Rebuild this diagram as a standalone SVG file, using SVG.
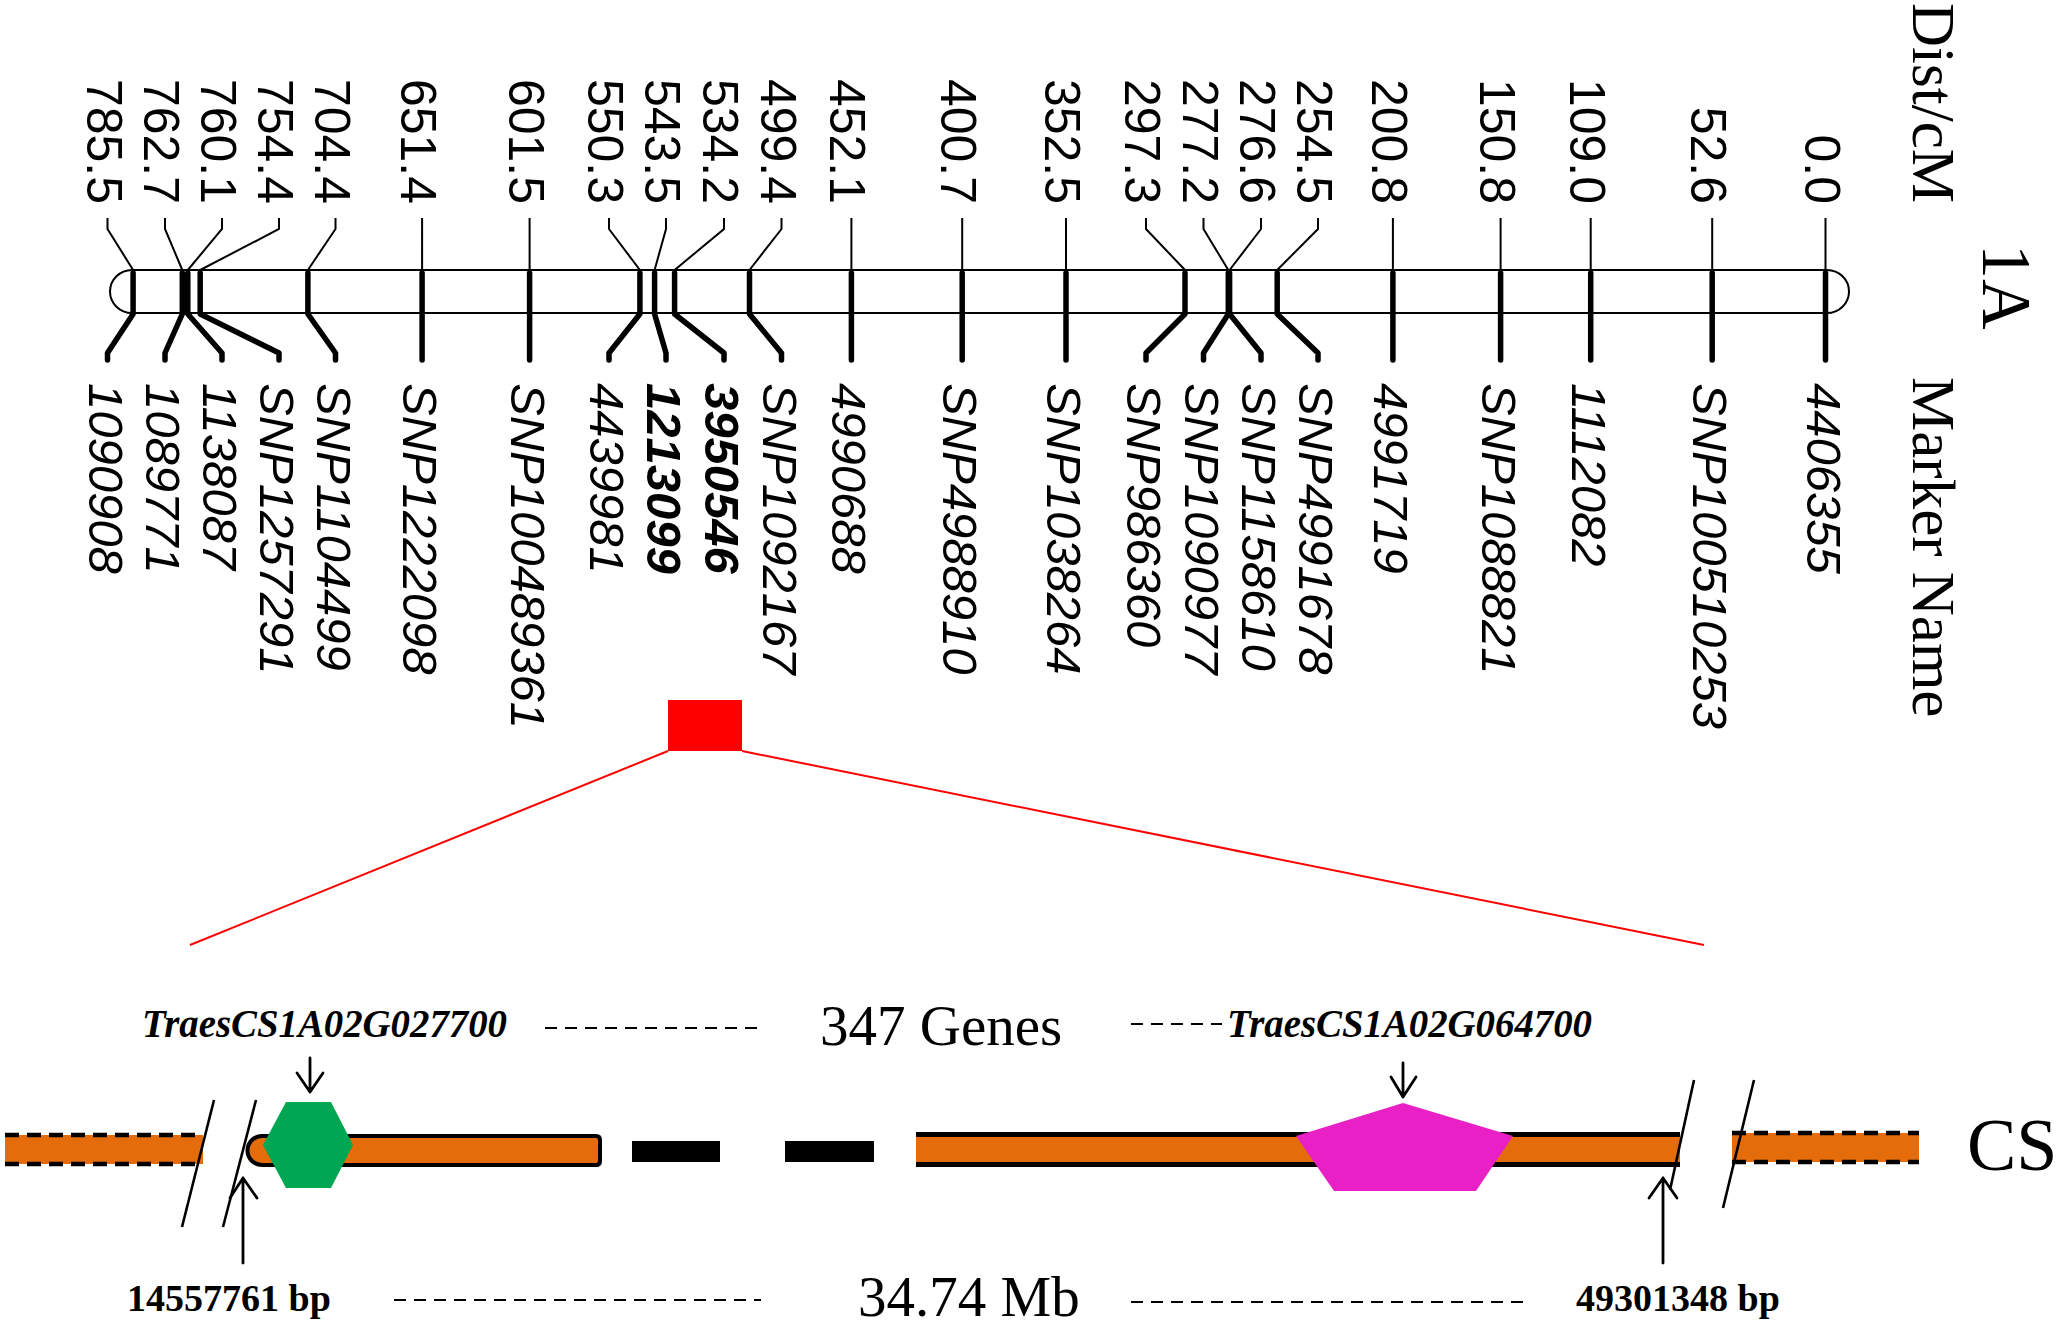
<svg xmlns="http://www.w3.org/2000/svg" width="2058" height="1325" viewBox="0 0 2058 1325">
<style>
.num{font-family:"Liberation Sans",Arial,sans-serif;font-size:50px;fill:#000;text-anchor:end}
.mk{font-family:"Liberation Sans",Arial,sans-serif;font-size:49px;font-style:italic;fill:#000}
.b{font-weight:bold}
.ser{font-family:"Liberation Serif","Times New Roman",serif;fill:#000}
.thin{stroke:#000;stroke-width:2;fill:none}
.thick{stroke:#000;stroke-width:5.5;fill:none;stroke-linecap:round;stroke-linejoin:round}
.dash{stroke:#000;stroke-width:2.2;stroke-dasharray:12 8;fill:none}
.bdash{stroke:#000;stroke-width:4.5;stroke-dasharray:14 8;fill:none}
.arr{stroke:#000;stroke-width:2.8;fill:none;stroke-linecap:round;stroke-linejoin:round}
.slash{stroke:#000;stroke-width:2.6;fill:none}
.red{stroke:#FF0000;stroke-width:2;fill:none}
.orange{fill:#E46C0A}
.gtxt{font-family:"Liberation Serif","Times New Roman",serif;font-size:39px;font-weight:bold;font-style:italic;fill:#000}
.bp{font-family:"Liberation Serif","Times New Roman",serif;font-size:38px;font-weight:bold;fill:#000}
</style>
<rect width="2058" height="1325" fill="#fff"/>

<g id="axis-titles">
<text class="ser" font-size="61" transform="translate(1913,3) rotate(90)">Dist/cM</text>
<text class="ser" font-size="70" transform="translate(1983,244) rotate(90)">1A</text>
<text class="ser" font-size="61" transform="translate(1913,377) rotate(90)">Marker Name</text>
</g>

<g id="chromosome">
<rect x="110" y="270" width="1739" height="43" rx="22" ry="21.5" fill="#fff" stroke="#000" stroke-width="2"/>
</g>

<g id="markers">
<g id="m785_5"><text class="num" transform="translate(86.5,204) rotate(90)">785.5</text><text class="mk" transform="translate(88.5,383) rotate(90)">1090908</text></g>
<g id="m762_7"><text class="num" transform="translate(144,204) rotate(90)">762.7</text><text class="mk" transform="translate(146,383) rotate(90)">1089771</text></g>
<g id="m760_1"><text class="num" transform="translate(201,204) rotate(90)">760.1</text><text class="mk" transform="translate(203,383) rotate(90)">1138087</text></g>
<g id="m754_4"><text class="num" transform="translate(258,204) rotate(90)">754.4</text><text class="mk" transform="translate(260,383) rotate(90)">SNP1257291</text></g>
<g id="m704_4"><text class="num" transform="translate(314.5,204) rotate(90)">704.4</text><text class="mk" transform="translate(316.5,383) rotate(90)">SNP1104499</text></g>
<g id="m651_4"><text class="num" transform="translate(401.1,204) rotate(90)">651.4</text><text class="mk" transform="translate(403.1,383) rotate(90)">SNP1222098</text></g>
<g id="m601_5"><text class="num" transform="translate(508.6,204) rotate(90)">601.5</text><text class="mk" transform="translate(510.6,383) rotate(90)">SNP100489361</text></g>
<g id="m550_3"><text class="num" transform="translate(588,204) rotate(90)">550.3</text><text class="mk" transform="translate(590,383) rotate(90)">4439981</text></g>
<g id="m543_5"><text class="num" transform="translate(645,204) rotate(90)">543.5</text><text class="mk b" transform="translate(647,383) rotate(90)">1213099</text></g>
<g id="m534_2"><text class="num" transform="translate(703,204) rotate(90)">534.2</text><text class="mk b" transform="translate(705,383) rotate(90)">3950546</text></g>
<g id="m499_4"><text class="num" transform="translate(760.5,204) rotate(90)">499.4</text><text class="mk" transform="translate(762.5,383) rotate(90)">SNP1092167</text></g>
<g id="m452_1"><text class="num" transform="translate(830.4,204) rotate(90)">452.1</text><text class="mk" transform="translate(832.4,383) rotate(90)">4990688</text></g>
<g id="m400_7"><text class="num" transform="translate(941.2,204) rotate(90)">400.7</text><text class="mk" transform="translate(943.2,383) rotate(90)">SNP4988910</text></g>
<g id="m352_5"><text class="num" transform="translate(1045,204) rotate(90)">352.5</text><text class="mk" transform="translate(1047,383) rotate(90)">SNP1038264</text></g>
<g id="m297_3"><text class="num" transform="translate(1125,204) rotate(90)">297.3</text><text class="mk" transform="translate(1127,383) rotate(90)">SNP986360</text></g>
<g id="m277_2"><text class="num" transform="translate(1182.5,204) rotate(90)">277.2</text><text class="mk" transform="translate(1184.5,383) rotate(90)">SNP1090977</text></g>
<g id="m276_6"><text class="num" transform="translate(1240,204) rotate(90)">276.6</text><text class="mk" transform="translate(1242,383) rotate(90)">SNP1158610</text></g>
<g id="m254_5"><text class="num" transform="translate(1297,204) rotate(90)">254.5</text><text class="mk" transform="translate(1299,383) rotate(90)">SNP4991678</text></g>
<g id="m200_8"><text class="num" transform="translate(1371.9,204) rotate(90)">200.8</text><text class="mk" transform="translate(1373.9,383) rotate(90)">4991719</text></g>
<g id="m150_8"><text class="num" transform="translate(1479.6,204) rotate(90)">150.8</text><text class="mk" transform="translate(1481.6,383) rotate(90)">SNP1088821</text></g>
<g id="m109_0"><text class="num" transform="translate(1569.7,204) rotate(90)">109.0</text><text class="mk" transform="translate(1571.7,383) rotate(90)">1112082</text></g>
<g id="m52_6"><text class="num" transform="translate(1691.2,204) rotate(90)">52.6</text><text class="mk" transform="translate(1693.2,383) rotate(90)">SNP100510253</text></g>
<g id="m0_0"><text class="num" transform="translate(1804.5,204) rotate(90)">0.0</text><text class="mk" transform="translate(1806.5,383) rotate(90)">4406355</text></g>
</g>

<g id="connectors">
<path class="thin" d="M107.5 218V229L133.1 270M165 218V229L182.3 270M222 218V229L187.8 270M279 218V229L200.2 270M335.5 218V229L307.9 270M422.1 218V270M529.6 218V270M609 218V229L639.9 270M666 218V229L654.6 270M724 218V229L674.6 270M781.5 218V229L749.5 270M851.4 218V270M962.2 218V270M1066 218V270M1146 218V229L1185 270M1203.5 218V229L1228.3 270M1261 218V229L1229.6 270M1318 218V229L1277.2 270M1392.9 218V270M1500.6 218V270M1590.7 218V270M1712.2 218V270M1825.5 218V270"/>
<path class="thick" d="M133.1 273V314L107.5 353V360M182.3 273V314L165 353V360M187.8 273V314L222 353V360M200.2 273V314L279 353V360M307.9 273V314L335.5 353V360M422.1 273V360M529.6 273V360M639.9 273V314L609 353V360M654.6 273V314L666 353V360M674.6 273V314L724 353V360M749.5 273V314L781.5 353V360M851.4 273V360M962.2 273V360M1066 273V360M1185 273V314L1146 353V360M1228.3 273V314L1203.5 353V360M1229.6 273V314L1261 353V360M1277.2 273V314L1318 353V360M1392.9 273V360M1500.6 273V360M1590.7 273V360M1712.2 273V360M1825.5 273V360"/>
<line class="red" x1="668" y1="751" x2="190" y2="945"/>
<line class="red" x1="742" y1="751" x2="1704" y2="945"/>
<path class="arr" d="M310 1058V1092M297 1073L310 1092L323 1073"/>
<path class="arr" d="M1403 1063V1097M1391 1077L1403 1097L1416 1077"/>
<path class="arr" d="M243 1263V1178M230 1198L243 1178L257 1198"/>
<path class="arr" d="M1663 1263V1178M1649 1198L1663 1178L1677 1198"/>
</g>

<g id="region-box">
<rect x="668" y="700" width="74" height="51" fill="#FF0000"/>
</g>

<g id="left-dashed-bar">
<rect class="orange" x="5" y="1135" width="198" height="29"/>
<line class="bdash" x1="5" y1="1135" x2="203" y2="1135"/>
<line class="bdash" x1="5" y1="1164" x2="203" y2="1164"/>
</g>
<g id="right-dashed-bar">
<rect class="orange" x="1732" y="1133" width="187" height="29"/>
<line class="bdash" x1="1732" y1="1133" x2="1919" y2="1133"/>
<line class="bdash" x1="1732" y1="1162" x2="1919" y2="1162"/>
</g>

<g id="left-segment">
<path d="M262 1136H596Q600 1136 600 1140V1161Q600 1165 596 1165H262A14.5 14.5 0 0 1 262 1136Z" fill="#E46C0A" stroke="#000" stroke-width="4"/>
</g>
<g id="gap-dashes">
<rect x="632" y="1141" width="88" height="21" fill="#000"/>
<rect x="785" y="1141" width="89" height="21" fill="#000"/>
</g>
<g id="right-segment">
<rect class="orange" x="916" y="1134" width="764" height="31"/>
<line x1="916" y1="1134.5" x2="1680" y2="1134.5" stroke="#000" stroke-width="5"/>
<line x1="916" y1="1164.5" x2="1680" y2="1164.5" stroke="#000" stroke-width="5"/>
</g>

<g id="breaks">
<line class="slash" x1="214" y1="1100" x2="182" y2="1227"/>
<line class="slash" x1="256" y1="1100" x2="223" y2="1227"/>
<line class="slash" x1="1694" y1="1080" x2="1670" y2="1190"/>
<line class="slash" x1="1754" y1="1080" x2="1723" y2="1208"/>
</g>

<g id="gene-TraesCS1A02G027700">
<polygon points="286,1102 331,1102 353,1145 331,1188 286,1188 263,1145" fill="#00A651"/>
<text class="gtxt" x="142" y="1037" textLength="365" lengthAdjust="spacingAndGlyphs">TraesCS1A02G027700</text>
</g>
<g id="gene-TraesCS1A02G064700">
<polygon points="1296,1136 1403,1103 1513,1136 1476,1191 1334,1191" fill="#E920C6"/>
<text class="gtxt" x="1227" y="1037" textLength="365" lengthAdjust="spacingAndGlyphs">TraesCS1A02G064700</text>
</g>

<g id="genes-label">
<line class="dash" x1="545" y1="1028" x2="759" y2="1028"/>
<text class="ser" font-size="57" x="820" y="1045">347 Genes</text>
<line class="dash" x1="1131" y1="1024" x2="1222" y2="1024"/>
</g>
<g id="size-label">
<line class="dash" x1="394" y1="1300" x2="761" y2="1300"/>
<text class="ser" font-size="57" x="858" y="1316">34.74 Mb</text>
<line class="dash" x1="1131" y1="1302" x2="1529" y2="1302"/>
</g>
<g id="start-pos"><text class="bp" x="127" y="1311">14557761 bp</text></g>
<g id="end-pos"><text class="bp" x="1576" y="1311">49301348 bp</text></g>
<g id="cs-label"><text class="ser" font-size="74" x="1967" y="1170">CS</text></g>
</svg>
